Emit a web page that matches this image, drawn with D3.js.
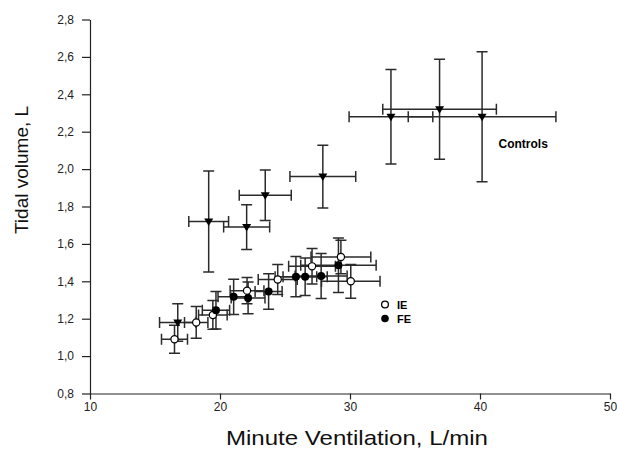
<!DOCTYPE html>
<html>
<head>
<meta charset="utf-8">
<script src="https://cdn.jsdelivr.net/npm/d3@7"></script>
<style>
  body { margin: 0; background: #fff; }
  svg { font-family: "Liberation Sans", Arial, sans-serif; }
  .axis path, .axis line { stroke: #222; stroke-width: 1.2; }
  .axis text { font-size: 12px; fill: #222; }
</style>
</head>
<body>
<div id="chart"></div>
<script>
// data (minute ventilation L/min, tidal volume L, +- errors)
const ctrlVe = [16.75, 19.13, 22.05, 23.48, 27.91, 33.15, 36.89, 40.16];
const ctrlVt = [1.18, 1.72, 1.69, 1.86, 1.96, 2.28, 2.32, 2.28];
const ctrlVeErr = [1.4, 1.53, 1.77, 2.0, 2.53, 3.22, 4.37, 5.68];
const ctrlVtErr = [0.1, 0.27, 0.12, 0.135, 0.168, 0.253, 0.267, 0.347];

const ieVe = [16.5, 18.17, 19.45, 22.08, 24.44, 27.08, 29.3, 30.06];
const ieVt = [1.09, 1.18, 1.22, 1.35, 1.41, 1.48, 1.53, 1.4];
const ieVeErr = [1.0, 0.9, 1.1, 1.3, 1.5, 1.8, 2.3, 2.25];
const ieVtErr = [0.075, 0.085, 0.077, 0.07, 0.08, 0.095, 0.09, 0.09];

const feVe = [19.69, 21.05, 22.16, 23.74, 25.84, 26.55, 27.78, 29.11];
const feVt = [1.245, 1.317, 1.311, 1.345, 1.425, 1.424, 1.428, 1.486];
const feVeErr = [1.05, 1.2, 1.3, 1.04, 1.6, 1.7, 2.0, 2.9];
const feVtErr = [0.1, 0.094, 0.085, 0.095, 0.107, 0.1, 0.12, 0.146];

const xTicks = [10, 20, 30, 40, 50];
const yTicks = [0.8, 1.0, 1.2, 1.4, 1.6, 1.8, 2.0, 2.2, 2.4, 2.6, 2.8];

// MARGIN CONVENTIONS
const margin = { top: 19.5, right: 7, bottom: 67.5, left: 90 };
const outerWidth = 617;
const outerHeight = 461;
const width = outerWidth - margin.left - margin.right;
const height = outerHeight - margin.top - margin.bottom;

const svg = d3.select("#chart").append("svg")
  .attr("width", outerWidth)
  .attr("height", outerHeight);

const g = svg.append("g")
  .attr("transform", `translate(${margin.left}, ${margin.top})`);

// scales
const x = d3.scaleLinear().domain([10, 50]).range([0, width]);
const y = d3.scaleLinear().domain([0.8, 2.8]).range([height, 0]);

// axes
g.append("g")
  .attr("class", "axis")
  .attr("transform", `translate(0, ${height})`)
  .call(d3.axisBottom(x).tickValues(xTicks).tickSize(6).tickSizeOuter(0).tickPadding(3));

g.append("g")
  .attr("class", "axis")
  .call(d3.axisLeft(y).tickValues(yTicks).tickSize(8).tickSizeOuter(0).tickPadding(8)
    .tickFormat(d => d.toFixed(1).replace(".", ",")));

// error bars + markers
const cap = 5.5;
const errColor = "#2b2b2b";

function series(ve, vt, veErr, vtErr) {
  return ve.map((v, i) => ({ x: v, y: vt[i], ex: veErr[i], ey: vtErr[i] }));
}

function drawErrors(data) {
  const eg = g.append("g").attr("stroke", errColor).attr("stroke-width", 1.5).attr("fill", "none");
  data.forEach(d => {
    const cx = x(d.x), cy = y(d.y);
    const x0 = x(d.x - d.ex), x1 = x(d.x + d.ex);
    const y0 = y(d.y - d.ey), y1 = y(d.y + d.ey);
    eg.append("path").attr("d",
      `M${x0},${cy}H${x1}M${x0},${cy - cap}V${cy + cap}M${x1},${cy - cap}V${cy + cap}` +
      `M${cx},${y0}V${y1}M${cx - cap},${y0}H${cx + cap}M${cx - cap},${y1}H${cx + cap}`);
  });
}

const ctrl = series(ctrlVe, ctrlVt, ctrlVeErr, ctrlVtErr);
const ie = series(ieVe, ieVt, ieVeErr, ieVtErr);
const fe = series(feVe, feVt, feVeErr, feVtErr);

drawErrors(ctrl);
drawErrors(ie);
drawErrors(fe);

// controls: down triangles
g.append("g").selectAll("path")
  .data(ctrl)
  .join("path")
  .attr("d", "M-4.5,-3L4.5,-3L0,4.5Z")
  .attr("transform", d => `translate(${x(d.x)},${y(d.y)})`)
  .attr("fill", "#000");

g.append("g").selectAll("circle")
  .data(ie)
  .join("circle")
  .attr("cx", d => x(d.x))
  .attr("cy", d => y(d.y))
  .attr("r", 3.6)
  .attr("fill", "#fff")
  .attr("stroke", "#000")
  .attr("stroke-width", 1.2);

g.append("g").selectAll("circle")
  .data(fe)
  .join("circle")
  .attr("cx", d => x(d.x))
  .attr("cy", d => y(d.y))
  .attr("r", 4)
  .attr("fill", "#000");

// legend
const legX = 385 - margin.left;
g.append("circle").attr("cx", legX).attr("cy", 304.5 - margin.top).attr("r", 3.4)
  .attr("fill", "#fff").attr("stroke", "#000").attr("stroke-width", 1.3);
g.append("circle").attr("cx", legX).attr("cy", 318.5 - margin.top).attr("r", 3.8)
  .attr("fill", "#000");
g.append("text").attr("x", legX + 12).attr("y", 308.5 - margin.top)
  .attr("font-size", 11).attr("font-weight", "bold").text("IE");
g.append("text").attr("x", legX + 12).attr("y", 322.5 - margin.top)
  .attr("font-size", 11).attr("font-weight", "bold").text("FE");

g.append("text").attr("x", 498.5 - margin.left).attr("y", 148 - margin.top)
  .attr("font-size", 12).attr("font-weight", "bold").text("Controls");

// labels
g.append("text")
  .attr("text-anchor", "middle")
  .attr("x", 357 - margin.left)
  .attr("y", 445 - margin.top)
  .attr("font-size", 21)
  .attr("fill", "#111")
  .attr("textLength", 262)
  .attr("lengthAdjust", "spacingAndGlyphs")
  .text("Minute Ventilation, L/min");

g.append("text")
  .attr("text-anchor", "middle")
  .attr("transform", "rotate(-90)")
  .attr("x", -(170 - margin.top))
  .attr("y", 27.5 - margin.left)
  .attr("font-size", 19)
  .attr("fill", "#111")
  .text("Tidal volume, L");
</script>
</body>
</html>
